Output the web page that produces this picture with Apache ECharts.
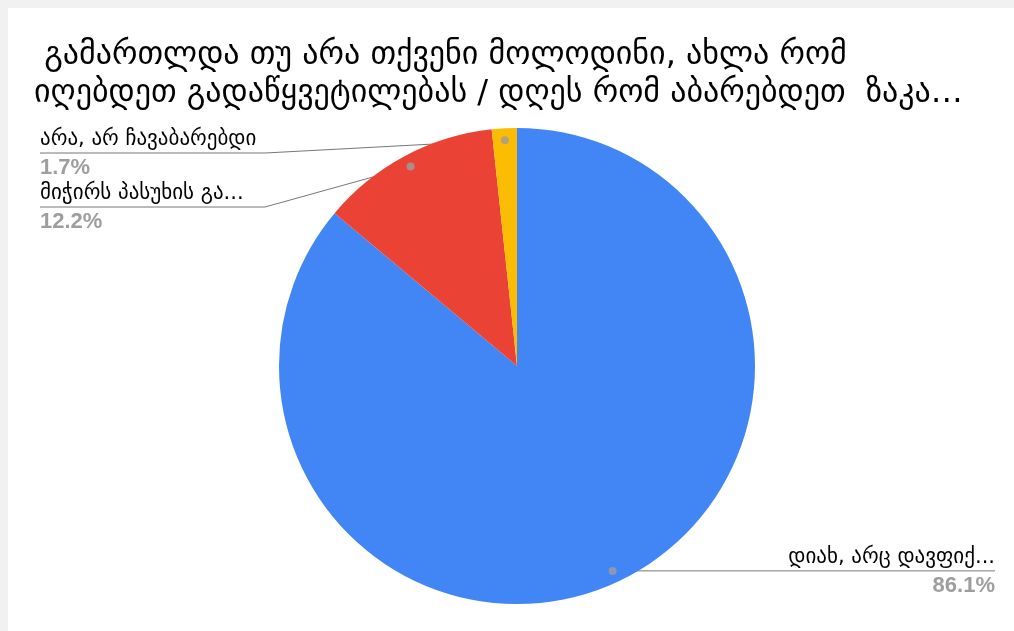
<!DOCTYPE html>
<html>
<head>
<meta charset="utf-8">
<script src="https://cdn.jsdelivr.net/npm/echarts@6/dist/echarts.min.js"></script>
<style>
html,body{margin:0;padding:0;background:#f1f1f1;width:1014px;height:631px;overflow:hidden;}
#c{position:absolute;left:8px;top:8px;width:1006px;height:623px;background:#fff;}
</style>
</head>
<body>
<div id="c"></div>
<script>
const titleLines = [' გამართლდა თუ არა თქვენი მოლოდინი, ახლა რომ', 'იღებდეთ გადაწყვეტილებას / დღეს რომ აბარებდეთ  ზაკა…'];
const categories = ['დიახ, არც დავფიქ...', 'მიჭირს პასუხის გა...', 'არა, არ ჩავაბარებდი'];
const values = [86.1, 12.2, 1.7];
const colors = ['#4285f4', '#ea4335', '#fbbc04'];

const CX = 509, CY = 358, R = 238;
const geoFont = "'DejaVu Sans', sans-serif";

// midpoint angles (in percent of the circle) for the label dots
const total = values.reduce((a, b) => a + b, 0);
let acc = 0;
const mids = values.map(v => { const m = (acc + v / 2) / total * 100; acc += v; return m; });

const leftLineY = { 1: 199, 2: 145 };

const chart = echarts.init(document.getElementById('c'));
chart.setOption({
  backgroundColor: '#ffffff',
  animation: false,
  title: {
    text: titleLines.join('\n'),
    left: 21, top: 24,
    textStyle: { fontFamily: geoFont, fontSize: 32, fontWeight: 'normal', color: '#000', lineHeight: 38 }
  },
  polar: { center: [CX, CY], radius: R },
  angleAxis: { type: 'value', min: 0, max: 100, startAngle: 90, clockwise: true, show: false },
  radiusAxis: { type: 'value', min: 0, max: 1, show: false },
  series: [
    {
      type: 'pie',
      center: [CX, CY],
      radius: R,
      startAngle: 90,
      clockwise: true,
      silent: true,
      avoidLabelOverlap: false,
      percentPrecision: 1,
      itemStyle: { borderWidth: 0 },
      data: categories.map((n, i) => ({ name: n, value: values[i], itemStyle: { color: colors[i] } })),
      label: {
        show: true,
        formatter: '{n|{b}}\n{p|{d}%}',
        rich: {
          n: { fontFamily: geoFont, fontSize: 21, fontWeight: 'normal', color: '#000', lineHeight: 28 },
          p: { fontFamily: "'Liberation Sans', Arial, sans-serif", fontSize: 22, fontWeight: 'bold', color: '#9e9e9e', lineHeight: 28 }
        }
      },
      labelLine: { show: true, length: 10, length2: 10, lineStyle: { color: '#777777', width: 1 } },
      labelLayout: function (params) {
        const i = params.dataIndex;
        const lp = params.labelLinePoints;
        const p0 = [CX + (lp[0][0] - CX) * 0.95, CY + (lp[0][1] - CY) * 0.95];
        if (i === 0) {
          const xr = chart.getWidth() - 19;
          return { x: xr, y: p0[1] + 1, align: 'right', verticalAlign: 'middle',
                   labelLinePoints: [p0, [p0[0] + 1, p0[1]], [xr, p0[1]]] };
        }
        const y = leftLineY[i];
        return { x: 32, y: y + 1, align: 'left', verticalAlign: 'middle',
                 labelLinePoints: [p0, [257, y], [32, y]] };
      }
    },
    {
      type: 'scatter',
      coordinateSystem: 'polar',
      silent: true,
      z: 10,
      symbolSize: 8,
      itemStyle: { color: '#9e9e9e' },
      data: mids.map(m => [0.95, m])
    }
  ]
});
</script>
</body>
</html>
